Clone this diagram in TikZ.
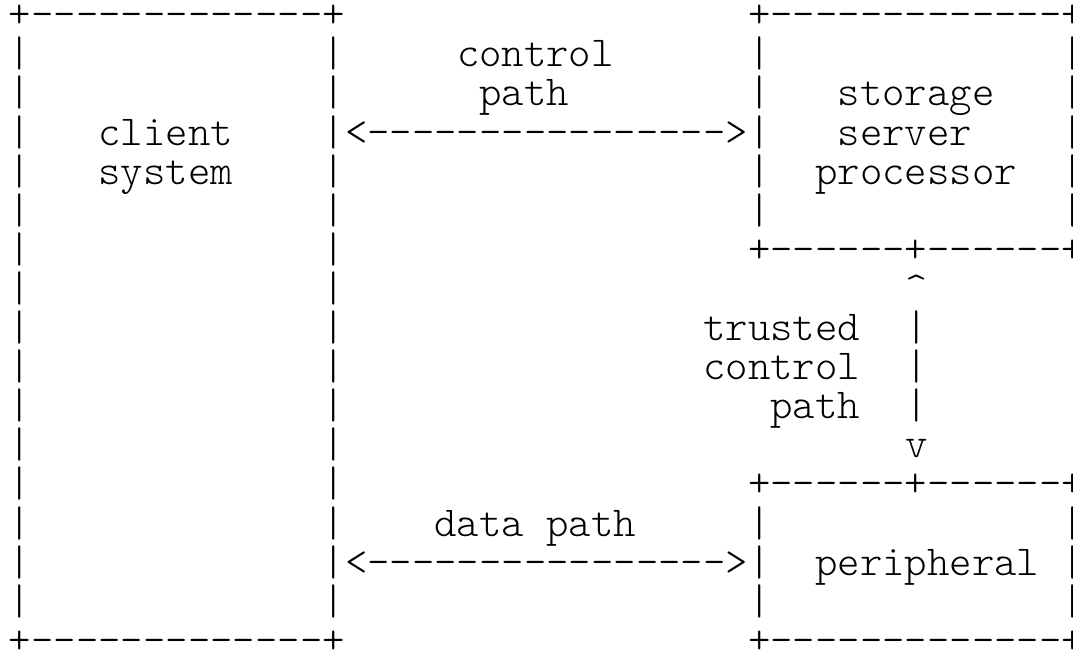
\documentclass[tikz,border=0pt]{standalone}
\usepackage{fontspec}
\setmonofont{Latin Modern Mono Light}

\tikzset{
  ascii/.style={anchor=base west, inner sep=0pt, outer sep=0pt,
    font=\ttfamily\fontsize{21.33pt}{23pt}\selectfont}
}

\begin{document}
\begin{tikzpicture}[x=11.2pt, y=-19.55pt]
            \useasboundingbox (-4.5pt,-5.7pt) rectangle (532pt,-332.7pt);

            % client system
            \node[ascii] (clienttop) at (0,1) {+-------------+};
            \node[ascii] (clientbot) at (0,17) {+-------------+};
            \foreach \k in {2,...,16} {
                \node[ascii] (clientl\k) at (0,\k) {|};
                \node[ascii] (clientr\k) at (14,\k) {|};
            }
            \node[ascii] (client) at (4,4) {client};
            \node[ascii] (system) at (4,5) {system};

            % storage server processor
            \node[ascii] (storetop) at (33,1) {+-------------+};
            \node[ascii] (storebot) at (33,7) {+------+------+};
            \foreach \k in {2,...,6} {
                \node[ascii] (storel\k) at (33,\k) {|};
                \node[ascii] (storer\k) at (47,\k) {|};
            }
            \node[ascii] (storage) at (37,3) {storage};
            \node[ascii] (server) at (37,4) {server};
            \node[ascii] (processor) at (36,5) {processor};

            % peripheral
            \node[ascii] (periphtop) at (33,13) {+------+------+};
            \node[ascii] (periphbot) at (33,17) {+-------------+};
            \foreach \k in {14,15,16} {
                \node[ascii] (periphl\k) at (33,\k) {|};
                \node[ascii] (periphr\k) at (47,\k) {|};
            }
            \node[ascii] (peripheral) at (36,15) {peripheral};

            % control path
            \node[ascii] (ctrl) at (20,2) {control};
            \node[ascii] (ctrlpath) at (21,3) {path};
            \node[ascii] (ctrlarrow) at (15,4) {<---------------->};

            % trusted control path
            \node[ascii] (trustup) at (40,8) {\textasciicircum};
            \foreach \k in {9,10,11} {
                \node[ascii] (trustbar\k) at (40,\k) {|};
            }
            \node[ascii] (trustdown) at (40,12) {v};
            \node[ascii] (trusted) at (31,9) {trusted};
            \node[ascii] (trustctrl) at (31,10) {control};
            \node[ascii] (trustpath) at (34,11) {path};

            % data path
            \node[ascii] (data) at (19,14) {data path};
            \node[ascii] (dataarrow) at (15,15) {<---------------->};
        \end{tikzpicture}
\end{document}
